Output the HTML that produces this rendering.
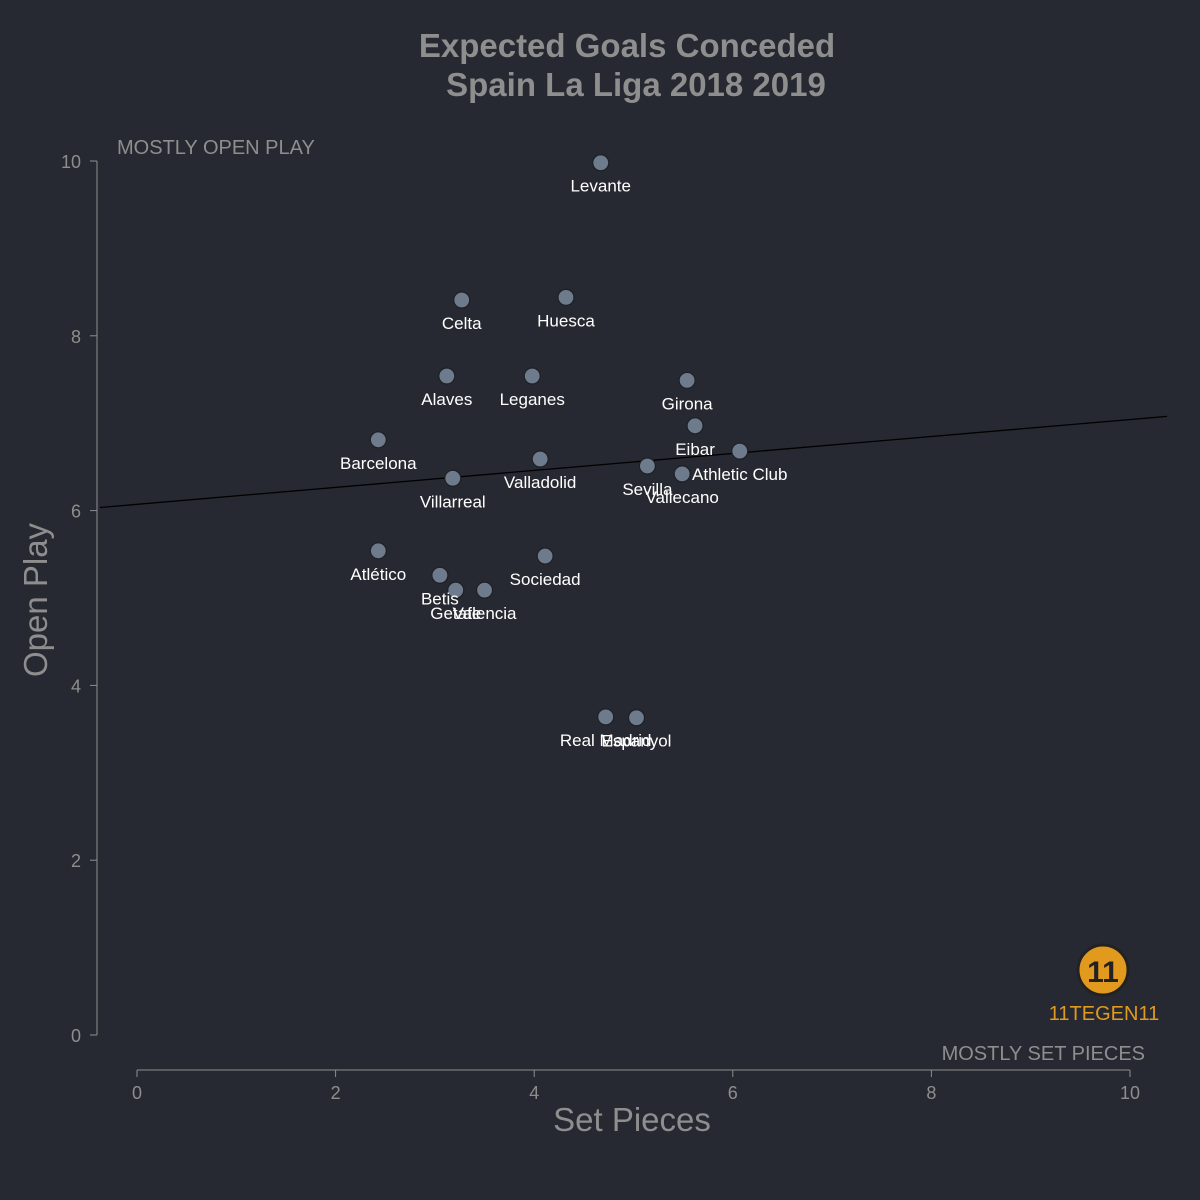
<!DOCTYPE html>
<html><head><meta charset="utf-8"><style>
html,body{margin:0;padding:0;background:#262931;}
svg{display:block;font-family:"Liberation Sans",sans-serif;}
</style></head><body>
<svg id="chart" width="1200" height="1200" viewBox="0 0 1200 1200">
<rect width="1200" height="1200" fill="#262931"/>
<text x="627" y="57" text-anchor="middle" font-size="33" font-weight="bold" fill="#8e8e8e">Expected Goals Conceded</text>
<text x="636" y="96" text-anchor="middle" font-size="33" font-weight="bold" fill="#8e8e8e">Spain La Liga 2018 2019</text>
<text x="117" y="154" font-size="20" fill="#8e8e8e">MOSTLY OPEN PLAY</text>
<text x="1145" y="1060" text-anchor="end" font-size="20" fill="#8e8e8e">MOSTLY SET PIECES</text>
<text x="632" y="1131" text-anchor="middle" font-size="33" fill="#8e8e8e">Set Pieces</text>
<text transform="translate(47,600) rotate(-90)" text-anchor="middle" font-size="33" fill="#8e8e8e">Open Play</text>
<g id="axes"></g>
<g id="fit"></g>
<g id="points"></g>
<g>
<circle cx="1103" cy="970" r="25" fill="#e29a1e" stroke="#222" stroke-width="3"/>
<text x="1103" y="982" text-anchor="middle" font-size="30" font-weight="bold" fill="#222">11</text>
<text x="1104" y="1020" text-anchor="middle" font-size="20" fill="#e29a1e">11TEGEN11</text>
</g>
</svg>
<script>
const teams=["Levante","Celta","Huesca","Alaves","Leganes","Girona","Eibar","Athletic Club","Barcelona","Valladolid","Sevilla","Vallecano","Villarreal","Atlético","Sociedad","Betis","Getafe","Valencia","Real Madrid","Espanyol"];
const setPieces=[4.67,3.27,4.32,3.12,3.98,5.54,5.62,6.07,2.43,4.06,5.14,5.49,3.18,2.43,4.11,3.05,3.21,3.50,4.72,5.03];
const openPlay=[9.98,8.41,8.44,7.54,7.54,7.49,6.97,6.68,6.81,6.59,6.51,6.42,6.37,5.54,5.48,5.26,5.09,5.09,3.64,3.63];
const xTicks=[0,2,4,6,8,10];
const yTicks=[0,2,4,6,8,10];
const NS="http://www.w3.org/2000/svg";
const sx=v=>137+v*99.3, sy=v=>1035-v*87.4;
function mk(tag,attrs,parent,txt){const e=document.createElementNS(NS,tag);for(const k in attrs)e.setAttribute(k,attrs[k]);if(txt!==undefined)e.textContent=txt;parent.appendChild(e);return e;}
const ax=document.getElementById('axes');
let l=mk('line',{x1:97,y1:sy(10),x2:97,y2:sy(0),stroke:'#8e8e8e','stroke-width':1},ax);


l=mk('line',{x1:sx(0),y1:1070,x2:sx(10),y2:1070,stroke:'#8e8e8e','stroke-width':1},ax);


yTicks.forEach(t=>{
 const tk=mk('line',{x1:90,y1:sy(t),x2:97,y2:sy(t),stroke:'#8e8e8e'},ax);
 
 
 const tl=mk('text',{x:81,y:sy(t)+7,'text-anchor':'end','font-size':18,fill:'#8e8e8e'},ax,String(t));
 
 
});
xTicks.forEach(t=>{
 const tk=mk('line',{x1:sx(t),y1:1070,x2:sx(t),y2:1077,stroke:'#8e8e8e'},ax);
 
 
 const tl=mk('text',{x:sx(t),y:1099,'text-anchor':'middle','font-size':18,fill:'#8e8e8e'},ax,String(t));
 
 
});
const n=setPieces.length;
const mx=setPieces.reduce((a,b)=>a+b)/n, my=openPlay.reduce((a,b)=>a+b)/n;
let sxy=0,sxx=0;for(let i=0;i<n;i++){sxy+=(setPieces[i]-mx)*(openPlay[i]-my);sxx+=(setPieces[i]-mx)**2;}
const slope=sxy/sxx, icpt=my-slope*mx;
const x0=(100-137)/99.3, x1=(1167-137)/99.3;
const fl=mk('line',{x1:sx(x0),y1:sy(icpt+slope*x0),x2:sx(x1),y2:sy(icpt+slope*x1),stroke:'#000','stroke-width':1.3},document.getElementById('fit'));


const pg=document.getElementById('points');
teams.forEach((t,i)=>{
 const c=mk('circle',{cx:sx(setPieces[i]),cy:sy(openPlay[i]),r:8,fill:'#6e7b8c',stroke:'#1e2026','stroke-width':1.2},pg);
 
 
});
teams.forEach((t,i)=>{
 const tx=mk('text',{x:sx(setPieces[i]),y:sy(openPlay[i])+29,'text-anchor':'middle','font-size':17,fill:'#ffffff'},pg,t);
 
 
});
</script>
</body></html>
